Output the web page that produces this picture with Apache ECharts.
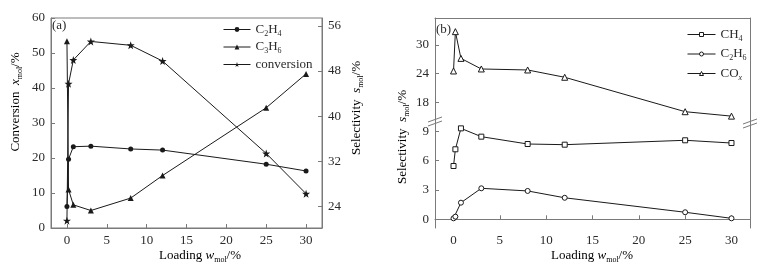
<!DOCTYPE html>
<html>
<head>
<meta charset="utf-8">
<script src="https://cdn.jsdelivr.net/npm/echarts@6/dist/echarts.min.js"></script>
<style>
  html, body { margin: 0; padding: 0; background: #fff; }
  #main { width: 762px; height: 270px; }
</style>
</head>
<body>
<div id="main"></div>
<script>
// loading values (wt%) shared by both panels
var loading = [0, 0.2, 0.8, 3, 8, 12, 25, 30];

// panel (a)
var selC2H4 = [24.0, 32.4, 34.6, 34.7, 34.2, 34.0, 31.5, 30.3];
var selC3H6 = [53.3, 27.0, 24.3, 23.3, 25.5, 29.5, 41.5, 47.5];
var conversion = [2.1, 41.2, 48.0, 53.3, 52.2, 47.7, 21.3, 9.8];

// panel (b)
var selCH4 = [5.45, 7.16, 9.3, 8.45, 7.7, 7.63, 8.08, 7.8];
var selC2H6 = [0.1, 0.27, 1.7, 3.17, 2.9, 2.2, 0.72, 0.1];
var selCOx = [24.56, 32.8, 27.2, 24.98, 24.77, 23.24, 16.03, 15.1];

var xTicks = [0, 5, 10, 15, 20, 25, 30];
var rightTicksA = [24, 32, 40, 48, 56];
var upperTicksB = [18, 24, 30];
var lowerTicksB = [0, 3, 6, 9];

var FONT = 'Liberation Serif';
var TXT = '#2a2a2a';
var AX = '#7a7a7a';
var LINE = '#1a1a1a';

var rich = {
    n: { fontFamily: FONT, fontSize: 13, lineHeight: 16, color: TXT },
    i: { fontFamily: FONT, fontSize: 13, lineHeight: 16, color: TXT, fontStyle: 'italic' },
    s: { fontFamily: FONT, fontSize: 8, lineHeight: 9, color: TXT, verticalAlign: 'bottom' },
    si: { fontFamily: FONT, fontSize: 8, lineHeight: 9, color: TXT, verticalAlign: 'bottom', fontStyle: 'italic' }
};

var legendNames = {
    'C2H4': '{n|C}{s|2}{n|H}{s|4}',
    'C3H6': '{n|C}{s|3}{n|H}{s|6}',
    'conversion': '{n|conversion}',
    'CH4': '{n|CH}{s|4}',
    'C2H6': '{n|C}{s|2}{n|H}{s|6}',
    'COx': '{n|CO}{si|x}'
};

function pairs(xs, ys) {
    var out = [];
    for (var i = 0; i < xs.length; i++) {
        out.push([xs[i], ys[i]]);
    }
    return out;
}

var starPath = 'path://M0,-10L2.35,-3.24L9.51,-3.09L3.8,1.24L5.88,8.09L0,4L-5.88,8.09L-3.8,1.24L-9.51,-3.09L-2.35,-3.24Z';

function valueX(gridIndex, pos, showLabel) {
    return {
        type: 'value', gridIndex: gridIndex, position: pos,
        min: -2, max: 32,
        splitLine: { show: false },
        axisLine: { show: true, lineStyle: { color: AX, width: 1 } },
        axisTick: { show: showLabel, inside: true, length: 4, lineStyle: { color: AX }, customValues: xTicks },
        axisLabel: {
            show: showLabel, margin: 6, customValues: xTicks,
            fontFamily: FONT, fontSize: 13, color: TXT
        }
    };
}

function valueY(gridIndex, pos, min, max, ticks, showLabel) {
    var ax = {
        type: 'value', gridIndex: gridIndex, position: pos,
        min: min, max: max,
        splitLine: { show: false },
        axisLine: { show: true, onZero: false, lineStyle: { color: AX, width: 1 } },
        axisTick: { show: showLabel, inside: true, length: 4, lineStyle: { color: AX } },
        axisLabel: { show: showLabel, margin: 6, fontFamily: FONT, fontSize: 13, color: TXT }
    };
    if (ticks) {
        ax.axisTick.customValues = ticks;
        ax.axisLabel.customValues = ticks;
    } else {
        ax.interval = 10;
    }
    return ax;
}

function lineSeries(name, xi, yi, data, symbol, size, empty) {
    return {
        name: name, type: 'line', xAxisIndex: xi, yAxisIndex: yi,
        data: data, symbol: symbol, symbolSize: size,
        showAllSymbol: true,
        lineStyle: { color: LINE, width: 1 },
        itemStyle: empty ? { color: '#fff', borderColor: LINE, borderWidth: 1 } : { color: LINE },
        emphasis: { disabled: true },
        animation: false
    };
}

var chart = echarts.init(document.getElementById('main'), null, { renderer: 'canvas' });

var option = {
    backgroundColor: '#fff',
    animation: false,
    grid: [
        { left: 51, right: 440, top: 18, bottom: 42, show: true, borderColor: AX, borderWidth: 1, backgroundColor: 'transparent' },
        { left: 435, right: 12, top: 18, height: 104 },
        { left: 435, right: 12, top: 122, bottom: 42 }
    ],
    legend: [
        {
            left: 218, top: 18, orient: 'vertical', itemWidth: 27, itemHeight: 6, itemGap: 3,
            data: ['C2H4', 'C3H6', 'conversion'],
            formatter: function (name) { return legendNames[name]; },
            textStyle: { rich: rich, fontFamily: FONT },
            lineStyle: { width: 1 },
            selectedMode: false
        },
        {
            left: 682, top: 23, orient: 'vertical', itemWidth: 28, itemHeight: 5, itemGap: 5,
            data: ['CH4', 'C2H6', 'COx'],
            formatter: function (name) { return legendNames[name]; },
            textStyle: { rich: rich, fontFamily: FONT },
            lineStyle: { width: 1, color: LINE },
            itemStyle: { color: '#fff', borderColor: LINE, borderWidth: 1 },
            selectedMode: false
        }
    ],
    xAxis: [
        valueX(0, 'bottom', true),
        valueX(1, 'top', false),
        valueX(2, 'bottom', true)
    ],
    yAxis: [
        valueY(0, 'left', 0, 60, null, true),
        valueY(0, 'right', 20.2, 57.4, rightTicksA, true),
        valueY(1, 'left', 13.87, 35.66, upperTicksB, true),
        valueY(1, 'right', 13.87, 35.66, upperTicksB, false),
        valueY(2, 'left', -0.89, 9.95, lowerTicksB, true),
        valueY(2, 'right', -0.89, 9.95, lowerTicksB, false)
    ],
    series: [
        lineSeries('C2H4', 0, 1, pairs(loading, selC2H4), 'circle', 5, false),
        lineSeries('C3H6', 0, 1, pairs(loading, selC3H6), 'triangle', 6, false),
        lineSeries('conversion', 0, 0, pairs(loading, conversion), starPath, 8, false),
        lineSeries('CH4', 2, 4, pairs(loading, selCH4), 'rect', 5, true),
        lineSeries('C2H6', 2, 4, pairs(loading, selC2H6), 'circle', 5, true),
        lineSeries('COx', 1, 2, pairs(loading, selCOx), 'triangle', 6, true)
    ],
    graphic: [
        { type: 'text', left: 52, top: 19, style: { text: '(a)', fontFamily: FONT, fontSize: 13, fill: TXT } },
        { type: 'text', left: 436, top: 23, style: { text: '(b)', fontFamily: FONT, fontSize: 13, fill: TXT } },
        {
            type: 'text', x: 16, y: 102, rotation: Math.PI / 2,
            style: { text: '{n|Conversion  }{i|x}{s|mol}{n|/%}', rich: rich, align: 'center', verticalAlign: 'middle' }
        },
        {
            type: 'text', x: 357, y: 108, rotation: Math.PI / 2,
            style: { text: '{n|Selectivity  }{i|s}{s|mol}{n|/%}', rich: rich, align: 'center', verticalAlign: 'middle' }
        },
        {
            type: 'text', x: 200, y: 256,
            style: { text: '{n|Loading }{i|w}{s|mol}{n|/%}', rich: rich, align: 'center', verticalAlign: 'middle' }
        },
        {
            type: 'text', x: 403, y: 137, rotation: Math.PI / 2,
            style: { text: '{n|Selectivity  }{i|s}{s|mol}{n|/%}', rich: rich, align: 'center', verticalAlign: 'middle' }
        },
        {
            type: 'text', x: 592, y: 256,
            style: { text: '{n|Loading }{i|w}{s|mol}{n|/%}', rich: rich, align: 'center', verticalAlign: 'middle' }
        },
        // axis break marks
        { type: 'line', shape: { x1: 428, y1: 122, x2: 442, y2: 117 }, style: { stroke: AX, lineWidth: 1 } },
        { type: 'line', shape: { x1: 428, y1: 126, x2: 442, y2: 121 }, style: { stroke: AX, lineWidth: 1 } },
        { type: 'line', shape: { x1: 743, y1: 124, x2: 757, y2: 119 }, style: { stroke: AX, lineWidth: 1 } },
        { type: 'line', shape: { x1: 743, y1: 128, x2: 757, y2: 123 }, style: { stroke: AX, lineWidth: 1 } }
    ]
};

chart.setOption(option);
</script>
</body>
</html>
